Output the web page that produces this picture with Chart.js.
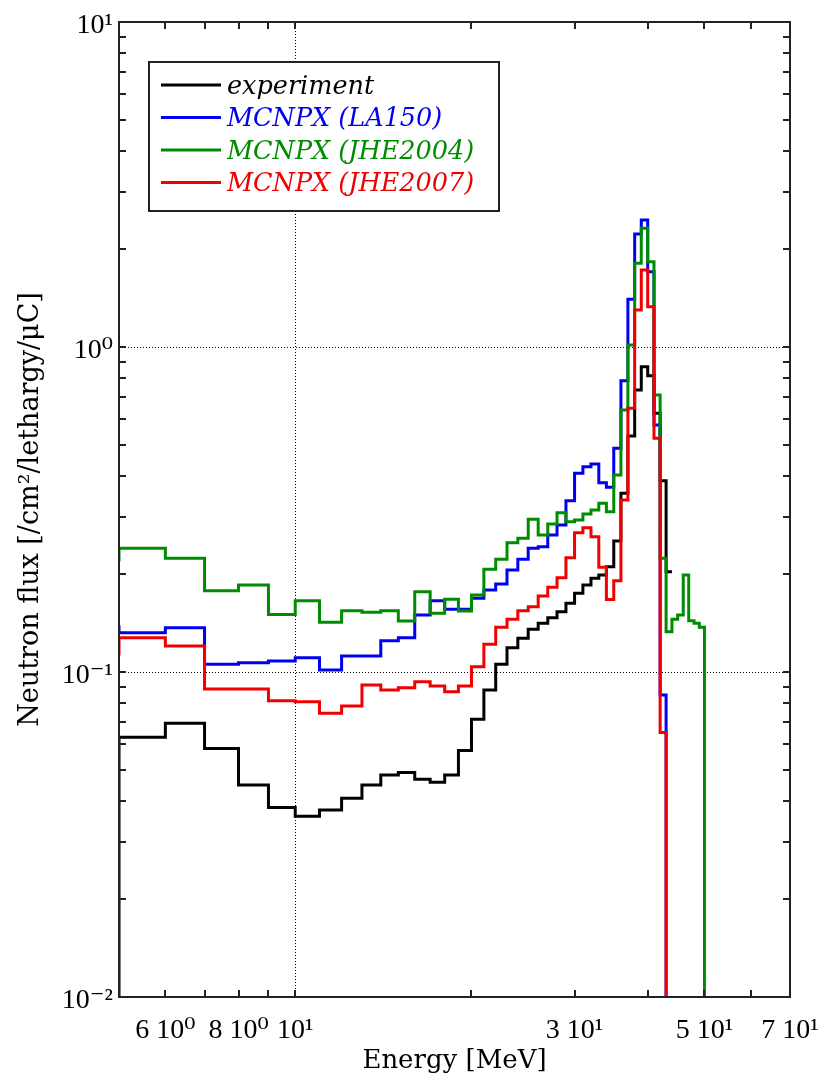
<!DOCTYPE html>
<html>
<head>
<meta charset="utf-8">
<script src="https://cdn.jsdelivr.net/npm/chart.js@4.4.1/dist/chart.umd.min.js"></script>
<style>
  html, body { margin: 0; padding: 0; background: #fff; }
</style>
</head>
<body>
<canvas id="flux" width="826" height="1082"></canvas>
<script>
// 1 MeV wide bins, lower edges in MeV
const binEdges = [4, 5, 6, 7, 8, 9, 10, 11, 12, 13, 14, 15, 16, 17, 18, 19, 20, 21, 22, 23, 24, 25, 26, 27,
    28, 29, 30, 31, 32, 33, 34, 35, 36, 37, 38, 39, 40, 41, 42, 43, 44, 45, 46, 47, 48, 49, 50];
const OFF = 0.001; // below the plotted range

// flux per bin, starting with the 4-5 MeV bin
const experiment = [OFF, 0.063, 0.0696, 0.0582, 0.0449, 0.0383, 0.036, 0.0376, 0.0409, 0.0449, 0.0482,
    0.0491, 0.0468, 0.0458, 0.0482, 0.0573, 0.0715, 0.088, 0.1056, 0.1188, 0.127, 0.1353, 0.1412, 0.1469,
    0.1533, 0.1627, 0.1748, 0.1852, 0.1943, 0.1988, 0.2109, 0.253, 0.3546, 0.5323, 0.7374, 0.8697, 0.8155,
    0.6252, 0.3878, 0.2035];
const la150 = [0.1378, 0.1321, 0.1368, 0.1056, 0.1068, 0.1081, 0.1107, 0.1014, 0.112, 0.112, 0.1248,
    0.1275, 0.1497, 0.1657, 0.156, 0.156, 0.1686, 0.1788, 0.1866, 0.206, 0.2222, 0.2402, 0.2429, 0.2639,
    0.2834, 0.3365, 0.4088, 0.4282, 0.4365, 0.3824, 0.37, 0.488, 0.7876, 1.402, 2.226, 2.459, 1.704,
    0.575, 0.085];
const jhe2004 = [0.2217, 0.2402, 0.2239, 0.1779, 0.1852, 0.1504, 0.1657, 0.1422, 0.1544, 0.1526, 0.1544,
    0.1435, 0.1767, 0.1516, 0.1674, 0.154, 0.1726, 0.207, 0.2222, 0.25, 0.2578, 0.2951, 0.2639, 0.2854,
    0.3091, 0.2901, 0.2937, 0.3063, 0.3151, 0.3305, 0.3113, 0.4037, 0.6402, 1.014, 1.809, 2.318, 1.83,
    0.7116, 0.2238, 0.133, 0.1453, 0.1497, 0.1988, 0.1438, 0.1412, 0.1372];
const jhe2007 = [0.1136, 0.1275, 0.1202, 0.0887, 0.0887, 0.0816, 0.081, 0.0746, 0.0786, 0.0912, 0.088,
    0.0895, 0.0934, 0.0906, 0.087, 0.0906, 0.1038, 0.1217, 0.1372, 0.1453, 0.1544, 0.1589, 0.1713, 0.1822,
    0.1951, 0.2248, 0.2683, 0.278, 0.2608, 0.21, 0.167, 0.191, 0.3383, 0.6479, 1.3, 1.725, 1.33, 0.5237,
    0.0651];

const seriesLabels = ['experiment', 'MCNPX (LA150)', 'MCNPX (JHE2004)', 'MCNPX (JHE2007)'];
const seriesColors = ['#000000', '#0000f0', '#008c00', '#f00000'];

const xTickValues = [6, 8, 10, 30, 50, 70];
const xTickLabels = ['6 10\u2070', '8 10\u2070', '10\u00b9', '3 10\u00b9', '5 10\u00b9', '7 10\u00b9'];
const yTickValues = [0.01, 0.1, 1, 10];
const yTickLabels = ['10\u207b\u00b2', '10\u207b\u00b9', '10\u2070', '10\u00b9'];
const xMarks = [6, 7, 8, 9, 10, 20, 30, 40, 50, 60];
const yDecades = [0.01, 0.1, 1];
const mantissas = [1, 2, 3, 4, 5, 6, 7, 8, 9];

// histogram as step points; endValue decides whether the last bin drops to the floor
function histPoints(values, endValue) {
    const pts = values.map((v, i) => ({ x: binEdges[i], y: v }));
    pts.push({ x: binEdges[values.length], y: endValue });
    return pts;
}

const tickFont = '"Liberation Serif", "DejaVu Serif", serif';
const titleFont = '"DejaVu Serif", serif';

const frameAndTicks = {
    id: 'frameAndTicks',
    afterDatasetsDraw(chart) {
        const { ctx, chartArea: a, scales: { x, y } } = chart;
        ctx.save();
        ctx.strokeStyle = '#222';
        ctx.lineWidth = 2;
        ctx.beginPath();
        xMarks.forEach(v => {
            const px = Math.round(x.getPixelForValue(v));
            ctx.moveTo(px, a.bottom); ctx.lineTo(px, a.bottom - 7);
            ctx.moveTo(px, a.top); ctx.lineTo(px, a.top + 7);
        });
        yDecades.forEach(d => {
            mantissas.forEach(m => {
                if (d === 0.01 && m === 1) return;
                const py = Math.round(y.getPixelForValue(d * m));
                ctx.moveTo(a.left, py); ctx.lineTo(a.left + 7, py);
                ctx.moveTo(a.right, py); ctx.lineTo(a.right - 7, py);
            });
        });
        ctx.stroke();
        ctx.strokeRect(a.left, a.top, a.right - a.left, a.bottom - a.top);
        ctx.restore();
    }
};

const boxLegend = {
    id: 'boxLegend',
    afterDraw(chart) {
        const { ctx, chartArea: a } = chart;
        const left = a.left + 30, top = a.top + 40, w = 350, h = 149;
        ctx.save();
        ctx.fillStyle = '#fff';
        ctx.fillRect(left, top, w, h);
        ctx.strokeStyle = '#222';
        ctx.lineWidth = 2;
        ctx.strokeRect(left, top, w, h);
        ctx.font = 'italic 25.5px "DejaVu Serif", serif';
        ctx.textBaseline = 'middle';
        chart.data.datasets.forEach((ds, i) => {
            const rowY = top + 23 + i * 32.5;
            ctx.strokeStyle = ds.borderColor;
            ctx.lineWidth = 3;
            ctx.beginPath();
            ctx.moveTo(left + 12, rowY);
            ctx.lineTo(left + 72, rowY);
            ctx.stroke();
            ctx.fillStyle = ds.borderColor;
            ctx.fillText(ds.label, left + 78, rowY + 2);
        });
        ctx.restore();
    }
};

const seriesData = [
    histPoints(experiment, experiment[experiment.length - 1]),
    histPoints(la150, OFF),
    histPoints(jhe2004, OFF),
    histPoints(jhe2007, OFF)
];

new Chart(document.getElementById('flux'), {
    type: 'line',
    data: {
        datasets: seriesData.map((pts, i) => ({
            label: seriesLabels[i],
            data: pts,
            borderColor: seriesColors[i],
            borderWidth: 3,
            stepped: true,
            pointRadius: 0,
            fill: false,
            clip: 0,
            order: 3 - i
        }))
    },
    options: {
        responsive: false,
        animation: false,
        layout: { padding: { top: 22, right: 36, left: 0, bottom: 0 } },
        plugins: {
            legend: { display: false },
            tooltip: { enabled: false }
        },
        scales: {
            x: {
                type: 'logarithmic',
                position: 'bottom',
                min: 5,
                max: 70,
                afterBuildTicks: s => { s.ticks = xTickValues.map(v => ({ value: v })); },
                afterFit: s => { s.height = 85; s.paddingLeft = 0; s.paddingRight = 0; },
                ticks: {
                    autoSkip: false,
                    maxRotation: 0,
                    padding: 17,
                    color: '#000',
                    font: { family: tickFont, size: 28 },
                    callback: (v, i) => xTickLabels[i]
                },
                grid: {
                    drawTicks: false,
                    lineWidth: 1,
                    color: c => (c.tick && c.tick.value === 10 ? '#000' : 'rgba(0,0,0,0)')
                },
                border: { display: false, dash: [1, 2] },
                title: {
                    display: true,
                    text: 'Energy [MeV]',
                    color: '#000',
                    font: { family: titleFont, size: 26 },
                    padding: { top: 0, bottom: 5 }
                }
            },
            y: {
                type: 'logarithmic',
                position: 'left',
                min: 0.01,
                max: 10,
                afterBuildTicks: s => { s.ticks = yTickValues.map(v => ({ value: v })); },
                afterFit: s => { s.width = 119; s.paddingTop = 0; s.paddingBottom = 0; },
                ticks: {
                    autoSkip: false,
                    padding: 6,
                    labelOffset: 4,
                    color: '#000',
                    font: { family: tickFont, size: 28 },
                    callback: (v, i) => yTickLabels[i]
                },
                grid: {
                    drawTicks: false,
                    lineWidth: 1,
                    color: c => (c.tick && (c.tick.value === 0.1 || c.tick.value === 1) ? '#000' : 'rgba(0,0,0,0)')
                },
                border: { display: false, dash: [1, 2] },
                title: {
                    display: true,
                    text: 'Neutron flux [/cm\u00b2/lethargy/\u03bcC]',
                    color: '#000',
                    font: { family: titleFont, size: 27 },
                    padding: { top: 15, bottom: 0 }
                }
            }
        }
    },
    plugins: [frameAndTicks, boxLegend]
});
</script>
</body>
</html>
